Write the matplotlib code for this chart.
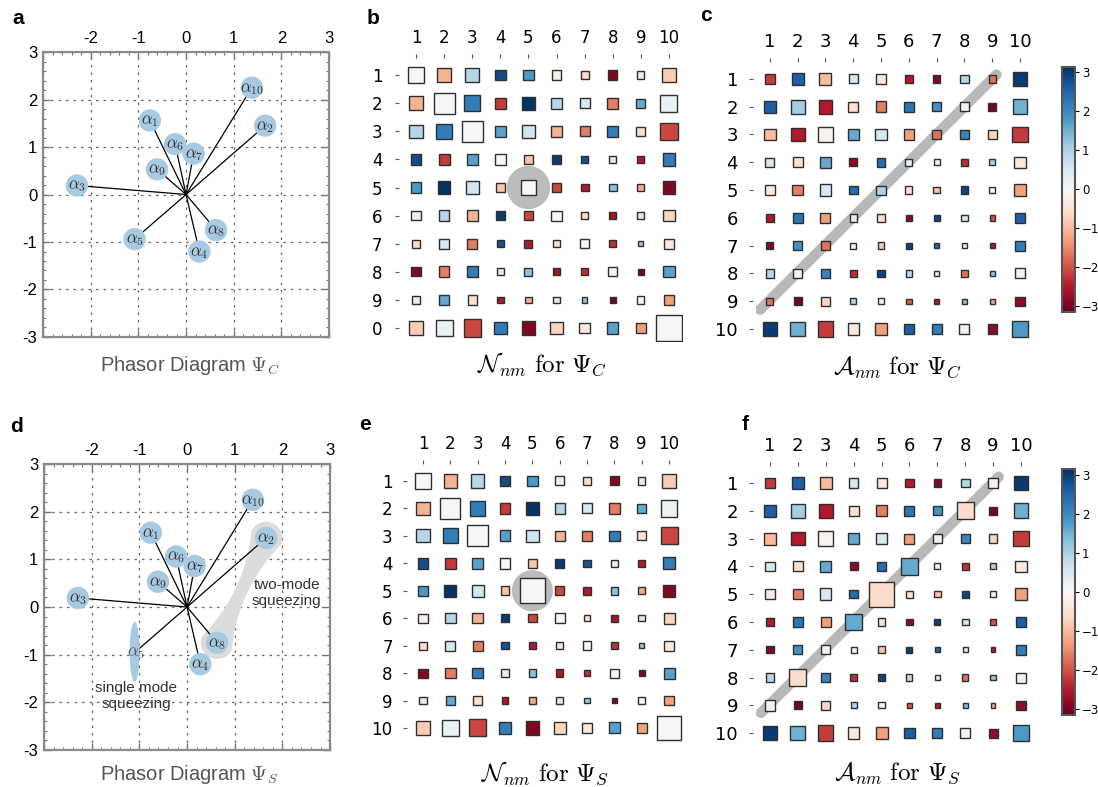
import numpy as np
import matplotlib
matplotlib.use("Agg")
import matplotlib.pyplot as plt
from matplotlib.patches import Circle, Rectangle, Ellipse, Polygon
from matplotlib.ticker import MultipleLocator, FixedLocator, FixedFormatter
from matplotlib.colors import Normalize
from matplotlib.cm import ScalarMappable

plt.rcParams['mathtext.fontset'] = 'cm'
plt.rcParams['font.family'] = ['DejaVu Sans']

# ---------------- data ----------------
phasor_names = [r'$\alpha_{1}$', r'$\alpha_{2}$', r'$\alpha_{3}$', r'$\alpha_{4}$', r'$\alpha_{5}$',
                r'$\alpha_{6}$', r'$\alpha_{7}$', r'$\alpha_{8}$', r'$\alpha_{9}$', r'$\alpha_{10}$']
phasor_x = [-0.76, 1.66, -2.29, 0.28, -1.08, -0.23, 0.16, 0.63, -0.61, 1.38]
phasor_y = [1.56, 1.45, 0.19, -1.20, -0.94, 1.06, 0.86, -0.75, 0.53, 2.25]

col_labels = ['1', '2', '3', '4', '5', '6', '7', '8', '9', '10']
row_labels_b = ['1', '2', '3', '4', '5', '6', '7', '8', '9', '0']
row_labels = ['1', '2', '3', '4', '5', '6', '7', '8', '9', '10']
cbar_ticks = [-3, -2, -1, 0, 1, 2, 3]

# N_nm phases (colour) and square sizes (fraction of a cell)
N_phase = [
    [0.0, -1.1, 0.9, 2.8, 1.8, -0.2, -0.6, -2.9, 0.3, -0.8],
    [-1.1, 0.0, 2.2, -2.2, 3.1, 0.9, 0.5, -1.6, 1.6, 0.2],
    [0.9, 2.2, 0.0, 1.7, 0.6, -1.1, -1.6, 2.2, -0.5, -2.1],
    [2.8, -2.2, 1.7, 0.0, -0.9, 3.0, 2.7, 0.3, -2.5, 2.2],
    [1.8, 3.1, 0.6, -0.9, 0.0, -2.1, -2.5, 1.3, -1.2, -2.9],
    [-0.2, 0.9, -1.1, 3.0, -2.1, 0.0, -0.5, -2.6, 0.4, -0.7],
    [-0.6, 0.5, -1.6, 2.7, -2.5, -0.5, 0.0, -2.3, 1.2, -0.3],
    [-2.9, -1.6, 2.2, 0.3, 1.3, -2.6, -2.3, 0.0, -3.0, 1.7],
    [0.3, 1.6, -0.5, -2.5, -1.2, 0.4, 1.2, -3.0, 0.0, -1.3],
    [-0.8, 0.2, -2.1, 2.2, -2.9, -0.7, -0.3, 1.7, -1.3, 0.0],
]
N_size = [
    [0.57, 0.48, 0.48, 0.38, 0.38, 0.33, 0.29, 0.33, 0.26, 0.52],
    [0.48, 0.74, 0.55, 0.40, 0.45, 0.38, 0.36, 0.38, 0.33, 0.60],
    [0.48, 0.55, 0.76, 0.40, 0.45, 0.38, 0.36, 0.38, 0.33, 0.62],
    [0.38, 0.40, 0.40, 0.40, 0.31, 0.31, 0.26, 0.26, 0.24, 0.45],
    [0.38, 0.45, 0.45, 0.31, 0.52, 0.31, 0.28, 0.28, 0.24, 0.45],
    [0.33, 0.38, 0.38, 0.31, 0.31, 0.36, 0.24, 0.26, 0.24, 0.40],
    [0.29, 0.36, 0.36, 0.26, 0.28, 0.24, 0.31, 0.24, 0.19, 0.36],
    [0.33, 0.38, 0.38, 0.26, 0.28, 0.26, 0.24, 0.33, 0.21, 0.40],
    [0.26, 0.33, 0.33, 0.24, 0.24, 0.24, 0.19, 0.21, 0.26, 0.36],
    [0.52, 0.60, 0.62, 0.45, 0.48, 0.43, 0.38, 0.40, 0.36, 0.90],
]
N_S_size55 = 0.90   # squeezed state: enlarged (5,5) entry

# A_nm phases and sizes for Psi_C
A_phase = [
    [-2.2, 2.6, -1.0, 0.5, -0.3, -2.5, -2.9, 0.9, -1.7, 3.0],
    [2.6, 1.1, -2.5, -0.5, -1.6, 2.3, 1.9, -0.15, -3.0, 1.5],
    [-1.0, -2.5, -0.1, 1.6, 0.5, -1.3, -1.7, 2.1, -0.7, -2.2],
    [0.5, -0.5, 1.6, -2.8, 2.4, 0.3, 0.0, -2.3, 1.0, -0.3],
    [-0.3, -1.6, 0.5, 2.4, 1.0, -0.5, -0.9, 2.9, 0.0, -1.3],
    [-2.5, 2.3, -1.3, 0.3, -0.5, -2.8, 2.9, 0.5, -2.0, 2.6],
    [-2.9, 1.9, -1.7, 0.0, -0.9, 2.9, 2.5, 0.3, -2.5, 2.2],
    [0.9, -0.15, 2.1, -2.3, 2.9, 0.8, 0.3, -1.7, 1.2, 0.15],
    [-1.7, -3.0, -0.7, 0.9, 0.0, -1.9, -2.5, 1.3, -1.2, -2.8],
    [3.0, 1.5, -2.2, -0.3, -1.3, 2.6, 2.2, 0.15, -2.8, 1.8],
]
A_size = [
    [0.38, 0.43, 0.43, 0.33, 0.36, 0.31, 0.26, 0.31, 0.26, 0.48],
    [0.43, 0.50, 0.50, 0.36, 0.38, 0.36, 0.31, 0.33, 0.29, 0.53],
    [0.43, 0.50, 0.53, 0.38, 0.41, 0.36, 0.33, 0.33, 0.31, 0.55],
    [0.33, 0.36, 0.38, 0.29, 0.31, 0.26, 0.22, 0.24, 0.22, 0.41],
    [0.36, 0.38, 0.41, 0.31, 0.33, 0.26, 0.24, 0.26, 0.22, 0.43],
    [0.31, 0.36, 0.36, 0.26, 0.26, 0.24, 0.22, 0.24, 0.19, 0.38],
    [0.26, 0.31, 0.33, 0.22, 0.24, 0.22, 0.19, 0.19, 0.17, 0.36],
    [0.31, 0.33, 0.33, 0.24, 0.26, 0.22, 0.19, 0.22, 0.19, 0.36],
    [0.26, 0.29, 0.31, 0.22, 0.22, 0.19, 0.17, 0.19, 0.17, 0.33],
    [0.48, 0.53, 0.55, 0.41, 0.43, 0.38, 0.36, 0.36, 0.33, 0.55],
]
# anti-diagonal (n+m=10) entries for Psi_S
A_S_antidiag_phase = [-0.2, -0.6, -0.15, 1.6, -0.6, 1.6, -0.15, -0.6, -0.2]
A_S_antidiag_size = [0.38, 0.62, 0.31, 0.60, 0.89, 0.60, 0.31, 0.62, 0.38]

# build Psi_S tables
N_S_size = [row[:] for row in N_size]
N_S_size[4][4] = N_S_size55
A_S_phase = [row[:] for row in A_phase]
A_S_size = [row[:] for row in A_size]
for k in range(9):
    A_S_phase[k][8 - k] = A_S_antidiag_phase[k]
    A_S_size[k][8 - k] = A_S_antidiag_size[k]

# ---------------- figure ----------------
fig = plt.figure(figsize=(10.98, 7.87), dpi=100)
cmap = plt.get_cmap('RdBu')
norm = Normalize(-np.pi, np.pi)
SANS = ['Liberation Sans', 'DejaVu Sans']
circ_col = '#a8c9e2'


def phasor_panel(rect, squeezed):
    ax = fig.add_axes(rect)
    ax.set_xlim(-3, 3)
    ax.set_ylim(-3, 3)
    ax.set_axisbelow(True)
    ax.xaxis.set_major_locator(FixedLocator([-3, -2, -1, 0, 1, 2, 3]))
    ax.xaxis.set_major_formatter(FixedFormatter(['', '-2', '-1', '0', '1', '2', '3']))
    ax.yaxis.set_major_locator(FixedLocator([-3, -2, -1, 0, 1, 2, 3]))
    ax.yaxis.set_major_formatter(FixedFormatter(['-3', '-2', '-1', '0', '1', '2', '3']))
    ax.xaxis.set_minor_locator(MultipleLocator(0.2))
    ax.yaxis.set_minor_locator(MultipleLocator(0.2))
    ax.tick_params(which='both', direction='in', top=True, bottom=True, left=True, right=True,
                   labeltop=True, labelbottom=False, labelleft=True, color='#777777')
    ax.tick_params(which='major', length=5, width=1.0, labelsize=12, pad=4)
    ax.tick_params(which='minor', length=2.5, width=0.8)
    for lab in ax.get_xticklabels() + ax.get_yticklabels():
        lab.set_fontfamily(SANS)
    ax.grid(True, which='major', linestyle=(0, (2, 4)), color='#666666', lw=0.9)
    for sp in ax.spines.values():
        sp.set_color('#8a8a8a')
        sp.set_linewidth(1.6)

    if squeezed:
        # two-mode squeezing blob between alpha_2 and alpha_8
        p8 = np.array([phasor_x[7], phasor_y[7]])
        p2 = np.array([phasor_x[1], phasor_y[1]])
        mid = (p8 + p2) / 2
        u = (p2 - p8) / np.linalg.norm(p2 - p8)
        v = np.array([-u[1], u[0]])
        c = np.linalg.norm(p2 - p8) / 2
        R, neck = 0.34, 0.13
        s = np.linspace(-c - R, c + R, 300)
        a = np.abs(s)
        w = np.where(a <= c, neck + (R - neck) * (a / c) ** 2,
                     np.sqrt(np.clip(R ** 2 - (a - c) ** 2, 0, None)))
        upper = mid + np.outer(s, u) + np.outer(w, v)
        lower = mid + np.outer(s[::-1], u) - np.outer(w[::-1], v)
        ax.add_patch(Polygon(np.vstack([upper, lower]), closed=True,
                             facecolor='#dcdcdc', edgecolor='none', zorder=1))
        ax.text(2.09, 0.29, 'two-mode\nsqueezing', ha='center', va='center', fontsize=11,
                color='#333333', family=SANS, linespacing=1.15, zorder=6)
        ax.text(-1.07, -1.87, 'single mode\nsqueezing', ha='center', va='center', fontsize=11,
                color='#333333', family=SANS, linespacing=1.15, zorder=6)

    for i, (x, y) in enumerate(zip(phasor_x, phasor_y)):
        ax.plot([0, x], [0, y], color='black', lw=0.9, zorder=3)
        if squeezed and i == 4:
            ax.add_patch(Ellipse((x - 0.02, y), 0.21, 1.26, facecolor=circ_col, edgecolor='none', zorder=4))
            ax.text(x, y, phasor_names[i], ha='center', va='center', fontsize=12,
                    color='#555555', zorder=5)
        else:
            ax.add_patch(Circle((x, y), 0.235, facecolor=circ_col, edgecolor='none', zorder=4))
            ax.text(x, y, phasor_names[i], ha='center', va='center', fontsize=12,
                    color='#333333', zorder=5)
    return ax


def matrix_panel(rect, phase, size, rlabels, fs, lpad):
    ax = fig.add_axes(rect)
    n = len(phase)
    for i in range(n):
        for j in range(n):
            s = size[i][j]
            ax.add_patch(Rectangle((j + 1 - s / 2, i + 1 - s / 2), s, s,
                                   facecolor=cmap(norm(phase[i][j])),
                                   edgecolor='#2e2e2e', lw=1.0, zorder=3))
    ax.set_xlim(0.5, n + 0.5)
    ax.set_ylim(n + 0.5, 0.5)
    for sp in ax.spines.values():
        sp.set_visible(False)
    ax.spines['top'].set_position(('outward', 2))
    ax.spines['left'].set_position(('outward', 2))
    ax.xaxis.tick_top()
    ax.set_xticks(range(1, n + 1))
    ax.set_xticklabels(col_labels)
    ax.set_yticks(range(1, n + 1))
    ax.set_yticklabels(rlabels)
    ax.tick_params(axis='x', top=True, bottom=False, length=3, width=0.8, color='#555555',
                   pad=5, labelsize=fs)
    ax.tick_params(axis='y', left=True, right=False, length=3, width=0.8, color='#555555',
                   pad=lpad, labelsize=fs)
    return ax


def add_cbar(rect):
    cax = fig.add_axes(rect)
    sm = ScalarMappable(norm=norm, cmap=cmap)
    cb = fig.colorbar(sm, cax=cax, ticks=cbar_ticks)
    cb.outline.set_edgecolor('#555555')
    cb.outline.set_linewidth(1.5)
    cax.tick_params(labelsize=8.5, length=3, width=0.8, pad=2)
    return cb


# panel a
phasor_panel([0.0392, 0.5718, 0.2605, 0.3621], squeezed=False)
# panel d
phasor_panel([0.0401, 0.0470, 0.2605, 0.3634], squeezed=True)

# panel b
axb = matrix_panel([0.3661, 0.5654, 0.2559, 0.3570], N_phase, N_size, row_labels_b, 12, 9)
axb.add_patch(Circle((5, 5), 0.77, facecolor='#bbbbbb', edgecolor='none', zorder=1))
# panel e
axe = matrix_panel([0.3728, 0.0576, 0.2490, 0.3487], N_phase, N_S_size, row_labels, 12, 7)
axe.add_patch(Circle((5, 5), 0.75, facecolor='#bbbbbb', edgecolor='none', zorder=1))

# panel c
axc = matrix_panel([0.6885, 0.5642, 0.2532, 0.3532], A_phase, A_size, row_labels, 13, 8)
axc.plot([0.65, 9.15], [9.3, 0.85], color='#b8b8b8', lw=7.5, solid_capstyle='round', zorder=1)
axc.yaxis.get_major_ticks()[5].tick1line.set_visible(False)
add_cbar([0.9672, 0.6036, 0.0118, 0.3113])

# panel f
axf = matrix_panel([0.6885, 0.0508, 0.2541, 0.3532], A_S_phase, A_S_size, row_labels, 13, 8)
axf.plot([0.68, 9.2], [9.27, 0.78], color='#b8b8b8', lw=7.5, solid_capstyle='round', zorder=1)
add_cbar([0.9672, 0.0915, 0.0118, 0.3126])

# captions
fig.text(0.173, 0.5362, r'Phasor Diagram $\Psi_C$', ha='center', va='center', fontsize=14.5,
         color='#555555', family=SANS)
fig.text(0.172, 0.0153, r'Phasor Diagram $\Psi_S$', ha='center', va='center', fontsize=14.5,
         color='#555555', family=SANS)
fig.text(0.4936, 0.5375, r'$\mathcal{N}_{nm}\ \mathrm{for}\ \Psi_C$', ha='center', va='center', fontsize=18)
fig.text(0.4964, 0.0178, r'$\mathcal{N}_{nm}\ \mathrm{for}\ \Psi_S$', ha='center', va='center', fontsize=18)
fig.text(0.8169, 0.5337, r'$\mathcal{A}_{nm}\ \mathrm{for}\ \Psi_C$', ha='center', va='center', fontsize=18)
fig.text(0.8169, 0.0178, r'$\mathcal{A}_{nm}\ \mathrm{for}\ \Psi_S$', ha='center', va='center', fontsize=18)

# panel letters
for lab, (x, y) in zip(['a', 'b', 'c', 'd', 'e', 'f'],
                       [(0.0164, 0.9771), (0.3397, 0.9759), (0.6430, 0.9797),
                        (0.0146, 0.4587), (0.3324, 0.4600), (0.6785, 0.4612)]):
    fig.text(x, y, lab, ha='center', va='center', fontsize=15, fontweight='bold', family=SANS)

fig.savefig('out.png', dpi=100)
